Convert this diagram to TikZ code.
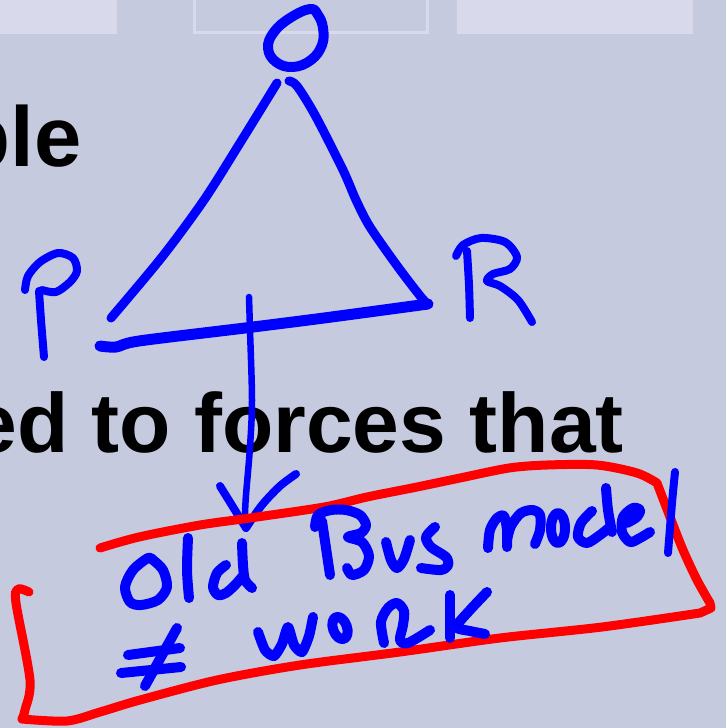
\documentclass[tikz,border=0pt]{standalone}
\usepackage{fontspec}
\setmainfont{Liberation Sans}
\definecolor{bg}{HTML}{C5CADF}
\definecolor{tab}{HTML}{D9D9EC}
\definecolor{inkblue}{HTML}{0000FF}
\definecolor{inkred}{HTML}{FF0000}
\begin{document}
\begin{tikzpicture}[x=1pt,y=-1pt,
  ink/.style={inkblue, line width=10pt, line cap=round, line join=round},
  thinink/.style={inkblue, line width=8pt, line cap=round, line join=round},
  redink/.style={inkred, line width=9pt, line cap=round, line join=round},
  slidetext/.style={font=\bfseries\fontsize{85}{85}\selectfont, inner sep=0pt, text=black}]
\useasboundingbox (0,0) rectangle (726,728);
\clip (0,0) rectangle (726,728);
\fill[bg] (0,0) rectangle (726,728);
% top tabs
\fill[tab] (0,-5) rectangle (117,34);
\draw[tab, line width=3pt] (194.5,-5) rectangle (427.5,32.5);
\fill[tab] (457,-5) rectangle (693,34);
% slide text
\node[slidetext, anchor=base east] (t1) at (82,166) {ble};
\node[slidetext, anchor=base east, font=\bfseries\fontsize{84}{84}\selectfont] (t2) at (624,452) {ed to forces that};
% O
\draw[ink, line width=10pt] plot[smooth cycle, tension=0.7] coordinates {(310,9) (290,18) (274,32) (268,48) (276,62) (293,67) (311,60) (322,45) (323,28) (318,15)};
% triangle
\draw[ink, line width=9pt] plot[smooth] coordinates {(277,83) (240,143) (204,200) (162,257) (111,318)};
\draw[ink, line width=9pt] plot[smooth] coordinates {(289,81) (297,86) (315,115) (343,170) (356,200) (370,227) (398,267) (421,297) (428,304)};
\draw[ink, line width=11pt] plot[smooth] coordinates {(428,304) (324,318) (245,328) (139,341) (116,347) (100,346)};
% P
\draw[thinink] plot[smooth] coordinates {(39,291) (41,320) (44,357)};
\draw[thinink] plot[smooth] coordinates {(25,290) (28,276) (40,262) (58,253) (73,258) (77,271) (70,282) (56,292) (42,290)};
% R
\draw[thinink] plot[smooth] coordinates {(467,251) (469,285) (470,318)};
\draw[thinink] plot[smooth] coordinates {(456,256) (463,245) (481,238) (505,242) (517,257) (510,269) (493,274) (487,281) (500,286) (518,300) (532,322)};
% arrow
\draw[inkblue, line width=6.5pt, line cap=round] plot[smooth] coordinates {(249,297) (250,330) (252,400) (250,447) (246,495) (245,513)};
\draw[thinink] plot[smooth] coordinates {(220,486) (233,507) (246,528)};
\draw[thinink] plot[smooth] coordinates {(246,528) (262,505) (280,486) (296,474)};
% red box
\draw[redink] plot[smooth, tension=0.5] coordinates {(100,548) (139,537) (200,525) (250,518) (324,507) (367,497) (417,487) (460,478) (509,468) (547,465) (597,465) (637,473) (657,483)}
  -- plot[smooth, tension=0.5] coordinates {(657,483) (670,517) (683,550) (697,580) (710,603)}
  -- (711,608) -- plot[smooth, tension=0.5] coordinates {(700,613) (602,627) (500,638) (400,652) (300,665) (217,680) (140,700) (100,712) (67,721) (22,719)}
  -- plot[smooth, tension=0.5] coordinates {(22,719) (25,710) (30,680) (16,603) (18,589) (29,592)};
% Old
\draw[ink] plot[smooth cycle] coordinates {(148,558) (133,570) (125,587) (130,602) (141,605) (158,600) (167,587) (163,570) (153,560)};
\draw[ink] plot[smooth] coordinates {(188,538) (187,570) (189,598)};
\draw[ink] plot[smooth] coordinates {(226,565) (217,573) (213,587) (218,595) (226,593) (235,585) (242,577)};
\draw[ink] plot[smooth] coordinates {(242,543) (243,565) (245,580) (252,588)};
% Bus
\draw[ink] plot[smooth] coordinates {(322,521) (326,548) (330,575)};
\draw[ink] plot[smooth] coordinates {(315,527) (318,515) (331,510) (346,510) (360,515) (366,525) (361,533) (348,537) (362,542) (369,556) (364,570) (352,575) (347,568)};
\draw[ink] plot[smooth] coordinates {(386,542) (391,560) (397,568) (404,559) (410,540)};
\draw[ink] plot[smooth] coordinates {(435,527) (426,537) (431,547) (446,557) (448,565) (441,570) (421,568)};
% model
\draw[ink] plot[smooth] coordinates {(488,548) (490,530) (497,518) (504,516) (507,530) (507,547)};
\draw[ink] plot[smooth] coordinates {(507,540) (511,526) (521,513) (533,510) (540,515) (540,530) (535,544)};
\draw[ink] (558,528) ellipse[x radius=7, y radius=15];
\draw[ink] plot[smooth] coordinates {(592,511) (581,523) (578,537) (587,543) (600,535) (610,527)};
\draw[ink] plot[smooth] coordinates {(606,488) (608,510) (612,532)};
\draw[ink] plot[smooth] coordinates {(627,523) (637,517) (640,510) (633,508) (623,517) (622,532) (630,542) (640,538) (650,532)};
\draw[thinink] plot[smooth] coordinates {(675,472) (672,503) (668,553)};
% not equal, work
\draw[ink] (128,655) -- (180,648);
\draw[ink] (121,673) -- (181,667);
\draw[ink] (177,628) -- (145,686);
\draw[ink] plot[smooth, tension=0.4] coordinates {(258,632) (265,650) (274,656) (282,644) (288,627) (294,645) (302,652) (309,636) (313,617)};
\draw[ink, rotate around={20:(340,628)}] (340,628) ellipse[x radius=7, y radius=11.5];
\draw[ink] plot[smooth] coordinates {(384,643) (381,622) (388,608) (397,603) (404,611) (403,625) (400,640) (408,643) (430,630)};
\draw[ink] (450,595) -- (450,638);
\draw[ink] plot[smooth, tension=0.4] coordinates {(487,592) (470,610) (456,627) (470,631) (485,634)};
\end{tikzpicture}
\end{document}
